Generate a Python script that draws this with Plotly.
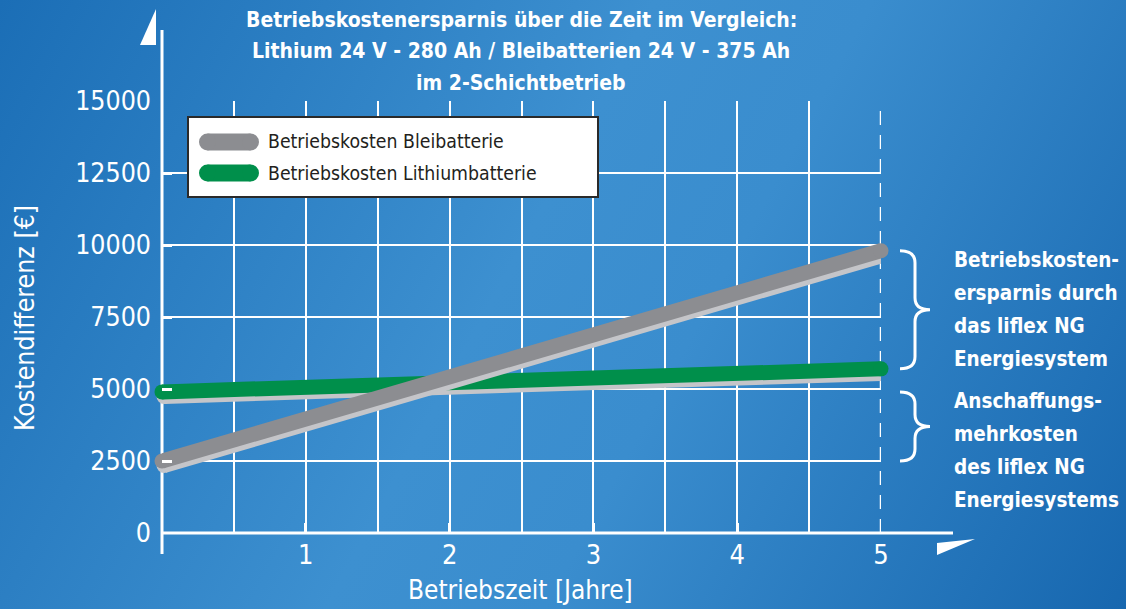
import base64
import plotly.graph_objects as go

# ---- data ---------------------------------------------------------------
years = [0, 5]
blei_costs = [2500, 9800]        # Betriebskosten Bleibatterie
lithium_costs = [4900, 5700]     # Betriebskosten Lithiumbatterie

x_tick_vals = [1, 2, 3, 4, 5]
x_grid_vals = [0.5, 1, 1.5, 2, 2.5, 3, 3.5, 4, 4.5]
y_tick_vals = [0, 2500, 5000, 7500, 10000, 12500, 15000]
y_tick_text = ["0", "2500", "5000", "7500", "10000", "12500", "15000"]

series_names = ["Betriebskosten Bleibatterie", "Betriebskosten Lithiumbatterie"]
title_lines = [
    "Betriebskostenersparnis über die Zeit im Vergleich:",
    "Lithium 24 V - 280 Ah / Bleibatterien 24 V - 375 Ah",
    "im 2-Schichtbetrieb",
]
savings_lines = ["Betriebskosten-", "ersparnis durch", "das liflex NG", "Energiesystem"]
extra_cost_lines = ["Anschaffungs-", "mehrkosten", "des liflex NG", "Energiesystems"]
x_title = "Betriebszeit [Jahre]"
y_title = "Kostendifferenz [€]"

# ---- styling --------------------------------------------------------------
W, H = 1126, 609
PX_L, PX_R, PX_T, PX_B = 162, 881, 101, 533   # plot area in pixels
X_MAX, Y_MAX = 5, 15000
GRAY = "#8c8d91"
GREEN = "#008f4b"
SHADOW = "#c4c5c9"
LINE_W = 15
FONT = "Liberation Sans Narrow, Arial Narrow, DejaVu Sans Condensed, sans-serif"

def fx(p):
    return p / W

def fy(p):
    return 1 - p / H

k_y = Y_MAX / (PX_B - PX_T)      # data units per pixel (y)
k_x = X_MAX / (PX_R - PX_L)      # data units per pixel (x)

# background gradient
svg = (
    f'<svg xmlns="http://www.w3.org/2000/svg" width="{W}" height="{H}">'
    '<defs><linearGradient id="g" gradientUnits="userSpaceOnUse" '
    f'x1="0" y1="0" x2="{W}" y2="{H}">'
    '<stop offset="0" stop-color="#1b6eb6"/>'
    '<stop offset="0.45" stop-color="#3d90d0"/>'
    '<stop offset="0.6" stop-color="#3a8dce"/>'
    '<stop offset="1" stop-color="#1767af"/>'
    '</linearGradient></defs>'
    f'<rect width="{W}" height="{H}" fill="url(#g)"/></svg>'
)
bg_uri = "data:image/svg+xml;base64," + base64.b64encode(svg.encode()).decode()

fig = go.Figure()

def add_series(ys, color, name):
    sx = [v + 2 * k_x for v in years]
    sy = [v - 4.5 * k_y for v in ys]
    fig.add_trace(go.Scatter(
        x=sx, y=sy, mode="lines+markers", cliponaxis=False, showlegend=False,
        line=dict(color=SHADOW, width=LINE_W),
        marker=dict(color=SHADOW, size=LINE_W, line=dict(width=0)),
        hoverinfo="skip"))
    fig.add_trace(go.Scatter(
        x=years, y=ys, mode="lines+markers", cliponaxis=False, showlegend=False,
        name=name, line=dict(color=color, width=LINE_W),
        marker=dict(color=color, size=LINE_W, line=dict(width=0))))

add_series(lithium_costs, GREEN, series_names[1])
add_series(blei_costs, GRAY, series_names[0])

shapes = []
annotations = []

# axis lines (extend past the plot area)
shapes.append(dict(type="line", xref="paper", yref="paper", layer="between",
                   x0=fx(PX_L), x1=fx(PX_L), y0=fy(30), y1=fy(554),
                   line=dict(color="white", width=3)))
shapes.append(dict(type="line", xref="paper", yref="paper", layer="between",
                   x0=fx(PX_L), x1=fx(953), y0=fy(PX_B), y1=fy(PX_B),
                   line=dict(color="white", width=3)))
# arrow heads
shapes.append(dict(type="path", xref="paper", yref="paper", layer="above",
                   path=f"M{fx(140)},{fy(45)} L{fx(156)},{fy(45)} L{fx(156)},{fy(9)} Z",
                   fillcolor="white", line=dict(width=0)))
shapes.append(dict(type="path", xref="paper", yref="paper", layer="above",
                   path=f"M{fx(937)},{fy(543)} L{fx(975)},{fy(539)} L{fx(937)},{fy(555)} Z",
                   fillcolor="white", line=dict(width=0)))
# dashed end-of-period line
shapes.append(dict(type="line", xref="x", yref="y", layer="between",
                   x0=years[-1], x1=years[-1], y0=0, y1=Y_MAX,
                   line=dict(color="white", width=2.5, dash="14px,10px")))

# curly braces
def brace(y_top, y_bot, xa=900, w=30, r=12):
    xm, xt = fx(xa + w / 2), fx(xa + w)
    x0 = fx(xa)
    rd = r * k_y
    yc = (y_top + y_bot) / 2
    p = (f"M{x0},{y_top} Q{xm},{y_top} {xm},{y_top - rd} "
         f"L{xm},{yc + rd} Q{xm},{yc} {xt},{yc} "
         f"Q{xm},{yc} {xm},{yc - rd} L{xm},{y_bot + rd} "
         f"Q{xm},{y_bot} {x0},{y_bot}")
    return dict(type="path", xref="paper", yref="y", path=p,
                line=dict(color="white", width=3))

shapes.append(brace(blei_costs[-1], lithium_costs[-1]))
shapes.append(brace(lithium_costs[0], blei_costs[0]))

# legend box
shapes.append(dict(type="rect", xref="paper", yref="paper", layer="above",
                   x0=fx(188), x1=fx(598), y0=fy(117), y1=fy(197),
                   fillcolor="white", line=dict(color="#2a2a2a", width=2)))
for cy, col, name in [(142, GRAY, series_names[0]), (173, GREEN, series_names[1])]:
    r = 8.5
    shapes.append(dict(type="line", xref="paper", yref="paper", layer="above",
                       x0=fx(199 + r), x1=fx(259 - r), y0=fy(cy), y1=fy(cy),
                       line=dict(color=col, width=2 * r)))
    for cx in (199 + r, 259 - r):
        shapes.append(dict(type="circle", xref="paper", yref="paper", layer="above",
                           x0=fx(cx - r), x1=fx(cx + r), y0=fy(cy - r), y1=fy(cy + r),
                           fillcolor=col, line=dict(width=0)))
    annotations.append(dict(xref="paper", yref="paper", x=fx(266), y=fy(cy),
                            xanchor="left", yanchor="middle", showarrow=False,
                            text=name, font=dict(family=FONT, size=19.3, color="#231f20")))

# title
for i, line in enumerate(title_lines):
    annotations.append(dict(xref="paper", yref="paper", x=fx(521), y=fy(20 + 31.5 * i),
                            xanchor="center", yanchor="middle", showarrow=False,
                            text=f"<b>{line}</b>",
                            font=dict(family=FONT, size=21, color="white")))

# side notes
for block, y0 in [(savings_lines, 260), (extra_cost_lines, 401)]:
    for i, line in enumerate(block):
        annotations.append(dict(xref="paper", yref="paper", x=fx(952), y=fy(y0 + 33 * i),
                                xanchor="left", yanchor="middle", showarrow=False,
                                text=f"<b>{line}</b>",
                                font=dict(family=FONT, size=20.5, color="white")))

# axis titles
annotations.append(dict(xref="paper", yref="paper", x=fx(520), y=fy(590),
                        xanchor="center", yanchor="middle", showarrow=False,
                        text=x_title, font=dict(family=FONT, size=26, color="white")))
annotations.append(dict(xref="paper", yref="paper", x=fx(24), y=fy(318),
                        xanchor="center", yanchor="middle", showarrow=False,
                        textangle=-90,
                        text=y_title, font=dict(family=FONT, size=26.5, color="white")))

fig.update_layout(
    width=W, height=H,
    margin=dict(l=0, r=0, t=0, b=0),
    paper_bgcolor="#2a7fc4",
    plot_bgcolor="rgba(0,0,0,0)",
    showlegend=False,
    images=[dict(source=bg_uri, xref="paper", yref="paper", x=0, y=1,
                 sizex=1, sizey=1, sizing="stretch", layer="below")],
    xaxis=dict(
        domain=[fx(PX_L), fx(PX_R)], range=[0, X_MAX], automargin=False,
        tickmode="array", tickvals=x_tick_vals,
        ticks="inside", ticklen=10, tickwidth=3, tickcolor="white",
        showgrid=False, zeroline=False, showline=False,
        minor=dict(tickmode="array", tickvals=x_grid_vals, showgrid=True,
                   gridcolor="white", gridwidth=2, ticks=""),
        tickfont=dict(family=FONT, size=27, color="white"),
        ticklabelstandoff=3,
    ),
    yaxis=dict(
        domain=[fy(PX_B), fy(PX_T)], range=[0, Y_MAX], automargin=False,
        tickmode="array", tickvals=y_tick_vals, ticktext=y_tick_text,
        ticks="inside", ticklen=10, tickwidth=3, tickcolor="white",
        showgrid=True, gridcolor="white", gridwidth=2,
        zeroline=False, showline=False,
        tickfont=dict(family=FONT, size=26.5, color="white"),
        ticklabelstandoff=10,
    ),
    shapes=shapes,
    annotations=annotations,
)

fig.write_html("out.html")
